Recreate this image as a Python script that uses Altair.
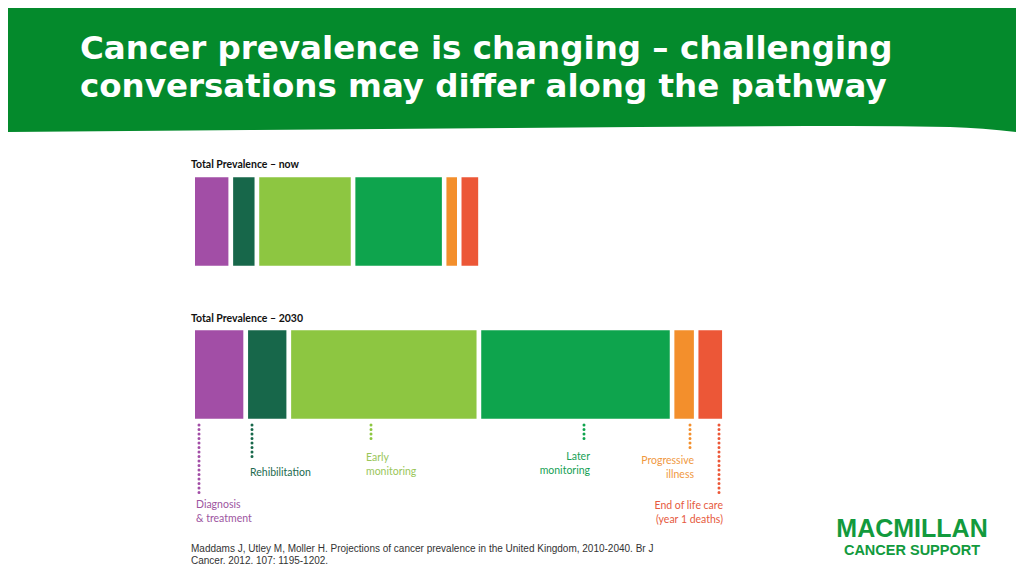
import altair as alt
import pandas as pd

# ---------------- data (estimated, thousands of people) ----------------
stages = ["Diagnosis & treatment", "Rehabilitation", "Early monitoring",
          "Later monitoring", "Progressive illness", "End of life care"]
prev_now = [263, 180, 663, 628, 104, 146]
prev_2030 = [366, 297, 1311, 1332, 166, 194]
rows = ["now", "2030"]
stage_colors = ["#a24ea6", "#17674a", "#8dc641", "#0ea44d", "#f38f2c", "#ec5737"]
text_colors = ["#9d559f", "#1d6a4f", "#9ac65a", "#169f55", "#f0993f", "#e65a40"]

title_lines = ["Cancer prevalence is changing \u2013 challenging",
               "conversations may differ along the pathway"]
row_titles = ["Total Prevalence \u2013 now", "Total Prevalence \u2013 2030"]
stage_labels = [["Diagnosis", "& treatment"], ["Rehibilitation"], ["Early", "monitoring"],
                ["Later", "monitoring"], ["Progressive", "illness"],
                ["End of life care", "(year 1 deaths)"]]
source_lines = ["Maddams J, Utley M, Moller H. Projections of cancer prevalence in the United Kingdom, 2010-2040. Br J",
                "Cancer. 2012. 107: 1195-1202."]
logo_lines = ["MACMILLAN", "CANCER SUPPORT"]

# ---------------- build table ----------------
recs = []
for row, vals in zip(rows, [prev_now, prev_2030]):
    cum = 0
    for s, v in zip(stages, vals):
        recs.append({"row": row, "stage": s, "start": cum, "end": cum + v, "value": v})
        cum += v
df = pd.DataFrame(recs)

W, H = 1008, 560
OFF = 8  # page margin
px_per_unit = 0.145
origin = 192.75 - OFF
x_dom = [-origin / px_per_unit, (W - origin) / px_per_unit]

one = pd.DataFrame({"a": [0]})

# header band with slightly wavy bottom edge (decoration)
edge = pd.DataFrame({"x": [0, 250, 512, 850, 950, 1024],
                     "y": [132, 130, 128, 126, 127, 133]})
header = alt.Chart(edge).mark_area(color="#048a2c", interpolate="monotone").encode(
    x=alt.X("x:Q", scale=alt.Scale(domain=[OFF, W + OFF], range=[0, W], nice=False, zero=False), axis=None),
    y=alt.Y("y:Q", scale=alt.Scale(domain=[OFF, H + OFF], range=[0, H], nice=False, zero=False), axis=None),
    y2=alt.value(-10),
)

layers = [header]

for i, line in enumerate(title_lines):
    layers.append(alt.Chart(one).mark_text(
        text=line, font="DejaVu Sans", fontWeight="bold", fontSize=32.5, color="white",
        align="left", baseline="alphabetic").encode(
        x=alt.value(80 - OFF), y=alt.value([59, 97][i] - OFF)))

bars = alt.Chart(df).mark_rect(stroke="white", strokeWidth=4.5).encode(
    x=alt.X("start:Q", scale=alt.Scale(domain=x_dom, nice=False, zero=False), axis=None),
    x2="end:Q",
    y=alt.Y("row:N", scale=alt.Scale(domain=rows, range=[167, 413], paddingInner=0.392, paddingOuter=0), axis=None),
    color=alt.Color("stage:N", scale=alt.Scale(domain=stages, range=stage_colors), legend=None),
    tooltip=["row", "stage", "value"],
)
layers.append(bars)

for t, yy in zip(row_titles, [165, 319]):
    layers.append(alt.Chart(one).mark_text(
        text=t, font="Lato", fontWeight="bold", fontSize=10.5, color="#111111",
        align="left", baseline="middle").encode(
        x=alt.value(191 - OFF), y=alt.value(yy - OFF)))

# dotted leader lines + stage labels (layout)
dot_x = [199, 252, 371, 584, 690, 719]
dot_end = [497, 461, 442, 443, 450, 497]
lab_x = [196, 250, 366, 590, 694, 723]
lab_y = [505, 473, 458, 457, 461, 506]
lab_align = ["left", "left", "left", "right", "right", "right"]
for i in range(len(stages)):
    layers.append(alt.Chart(one).mark_rule(
        color=stage_colors[i], strokeWidth=3, strokeDash=[0.1, 4.4], strokeCap="round").encode(
        x=alt.value(dot_x[i] - OFF), y=alt.value(425 - OFF), y2=alt.value(dot_end[i] - OFF)))
    lines = stage_labels[i]
    txt = lines if len(lines) > 1 else lines[0]
    layers.append(alt.Chart(one).mark_text(
        text=txt, font="Lato", fontSize=10.5, lineHeight=14, color=text_colors[i],
        align=lab_align[i], baseline="middle").encode(
        x=alt.value(lab_x[i] - OFF), y=alt.value(lab_y[i] - OFF)))

for t, yy in zip(source_lines, [549, 561]):
    layers.append(alt.Chart(one).mark_text(
        text=t, font="Liberation Sans", fontSize=10, color="#333333",
        align="left", baseline="middle").encode(
        x=alt.value(191 - OFF), y=alt.value(yy - OFF)))

for t, yy, fs in zip(logo_lines, [537, 555], [25, 14.5]):
    layers.append(alt.Chart(one).mark_text(
        text=t, font="Liberation Sans", fontWeight="bold", fontSize=fs, color="#129a3d",
        align="center", baseline="alphabetic").encode(
        x=alt.value(912 - OFF), y=alt.value(yy - OFF)))

chart = alt.layer(*layers).resolve_scale(x="independent", y="independent", color="independent").properties(
    width=W, height=H, padding=0, autosize=alt.AutoSizeParams(type="none"),
    background="white",
).configure_view(stroke=None)

chart.save("out.html", embed_options={"renderer": "svg", "actions": False})
